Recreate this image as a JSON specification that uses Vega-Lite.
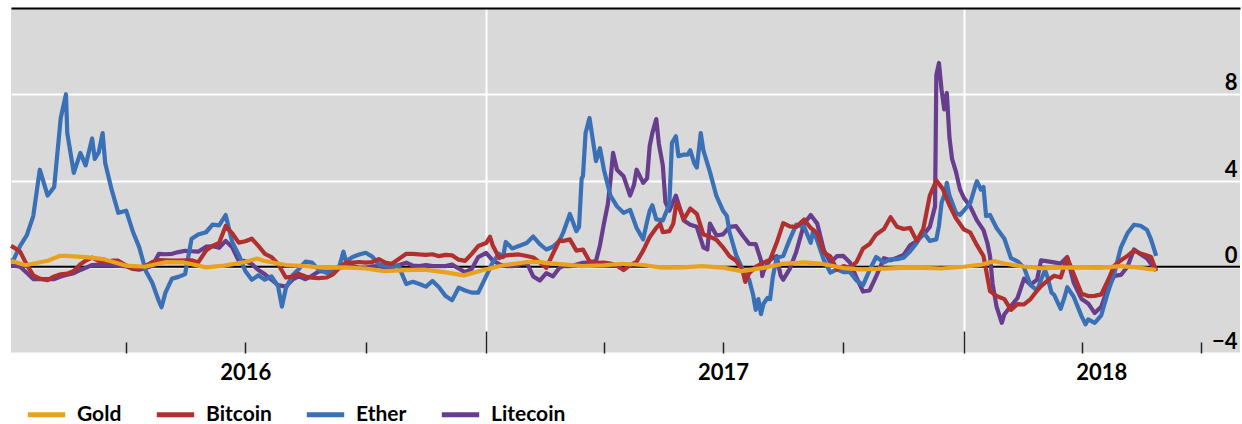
{
  "$schema": "https://vega.github.io/schema/vega-lite/v6.json",
  "width": 1229,
  "height": 345,
  "padding": {"left": 8, "top": 8, "right": 5, "bottom": 0},
  "background": "white",
  "config": {
    "view": {"fill": "#d9d9d9", "stroke": null},
    "font": "Lato"
  },
  "data": {"values": [
    {"date":"2016-01-04","series":"Litecoin","value":0.05},{"date":"2016-01-06","series":"Litecoin","value":0.05},{"date":"2016-01-11","series":"Litecoin","value":0.0},{"date":"2016-01-16","series":"Litecoin","value":-0.28},{"date":"2016-01-21","series":"Litecoin","value":-0.57},{"date":"2016-01-26","series":"Litecoin","value":-0.57},
    {"date":"2016-02-01","series":"Litecoin","value":-0.57},{"date":"2016-02-06","series":"Litecoin","value":-0.57},{"date":"2016-02-11","series":"Litecoin","value":-0.45},{"date":"2016-02-16","series":"Litecoin","value":-0.37},{"date":"2016-02-21","series":"Litecoin","value":-0.3},{"date":"2016-02-26","series":"Litecoin","value":-0.15},
    {"date":"2016-03-01","series":"Litecoin","value":-0.05},{"date":"2016-03-06","series":"Litecoin","value":0.08},{"date":"2016-03-11","series":"Litecoin","value":0.1},{"date":"2016-03-16","series":"Litecoin","value":0.07},{"date":"2016-03-21","series":"Litecoin","value":0.1},{"date":"2016-03-26","series":"Litecoin","value":0.05},
    {"date":"2016-04-01","series":"Litecoin","value":0.02},{"date":"2016-04-06","series":"Litecoin","value":-0.1},{"date":"2016-04-11","series":"Litecoin","value":-0.14},{"date":"2016-04-16","series":"Litecoin","value":-0.06},{"date":"2016-04-21","series":"Litecoin","value":0.05},{"date":"2016-04-26","series":"Litecoin","value":0.6},
    {"date":"2016-05-01","series":"Litecoin","value":0.58},{"date":"2016-05-06","series":"Litecoin","value":0.6},{"date":"2016-05-11","series":"Litecoin","value":0.68},{"date":"2016-05-16","series":"Litecoin","value":0.74},{"date":"2016-05-21","series":"Litecoin","value":0.72},{"date":"2016-05-26","series":"Litecoin","value":0.7},
    {"date":"2016-06-01","series":"Litecoin","value":0.93},{"date":"2016-06-06","series":"Litecoin","value":0.95},{"date":"2016-06-11","series":"Litecoin","value":0.88},{"date":"2016-06-16","series":"Litecoin","value":1.2},{"date":"2016-06-21","series":"Litecoin","value":0.9},{"date":"2016-06-26","series":"Litecoin","value":0.28},
    {"date":"2016-07-01","series":"Litecoin","value":0.26},{"date":"2016-07-06","series":"Litecoin","value":0.12},{"date":"2016-07-11","series":"Litecoin","value":-0.15},{"date":"2016-07-16","series":"Litecoin","value":-0.35},{"date":"2016-07-21","series":"Litecoin","value":-0.6},{"date":"2016-07-26","series":"Litecoin","value":-0.85},
    {"date":"2016-08-01","series":"Litecoin","value":-0.92},{"date":"2016-08-06","series":"Litecoin","value":-0.6},{"date":"2016-08-11","series":"Litecoin","value":-0.44},{"date":"2016-08-16","series":"Litecoin","value":-0.58},{"date":"2016-08-21","series":"Litecoin","value":-0.42},{"date":"2016-08-26","series":"Litecoin","value":-0.22},
    {"date":"2016-09-01","series":"Litecoin","value":-0.2},{"date":"2016-09-06","series":"Litecoin","value":-0.12},{"date":"2016-09-11","series":"Litecoin","value":-0.05},{"date":"2016-09-16","series":"Litecoin","value":0.03},{"date":"2016-09-21","series":"Litecoin","value":0.03},{"date":"2016-09-26","series":"Litecoin","value":-0.05},
    {"date":"2016-10-01","series":"Litecoin","value":-0.05},{"date":"2016-10-06","series":"Litecoin","value":0.02},{"date":"2016-10-11","series":"Litecoin","value":0.03},{"date":"2016-10-16","series":"Litecoin","value":-0.04},{"date":"2016-10-21","series":"Litecoin","value":-0.05},{"date":"2016-10-26","series":"Litecoin","value":0.07},
    {"date":"2016-11-01","series":"Litecoin","value":0.19},{"date":"2016-11-06","series":"Litecoin","value":0.05},{"date":"2016-11-11","series":"Litecoin","value":0.03},{"date":"2016-11-16","series":"Litecoin","value":0.08},{"date":"2016-11-21","series":"Litecoin","value":0.03},{"date":"2016-11-26","series":"Litecoin","value":0.03},
    {"date":"2016-12-01","series":"Litecoin","value":0.03},{"date":"2016-12-06","series":"Litecoin","value":0.1},{"date":"2016-12-11","series":"Litecoin","value":-0.08},{"date":"2016-12-16","series":"Litecoin","value":-0.25},{"date":"2016-12-21","series":"Litecoin","value":-0.1},{"date":"2016-12-26","series":"Litecoin","value":0.45},
    {"date":"2017-01-01","series":"Litecoin","value":0.64},{"date":"2017-01-06","series":"Litecoin","value":0.3},{"date":"2017-01-11","series":"Litecoin","value":0.12},{"date":"2017-01-16","series":"Litecoin","value":0.03},{"date":"2017-01-21","series":"Litecoin","value":0.03},{"date":"2017-01-26","series":"Litecoin","value":0.1},
    {"date":"2017-02-01","series":"Litecoin","value":0.19},{"date":"2017-02-06","series":"Litecoin","value":-0.45},{"date":"2017-02-11","series":"Litecoin","value":-0.64},{"date":"2017-02-16","series":"Litecoin","value":-0.3},{"date":"2017-02-21","series":"Litecoin","value":-0.45},{"date":"2017-02-26","series":"Litecoin","value":-0.05},
    {"date":"2017-03-01","series":"Litecoin","value":0.03},{"date":"2017-03-06","series":"Litecoin","value":0.03},{"date":"2017-03-11","series":"Litecoin","value":0.1},{"date":"2017-03-16","series":"Litecoin","value":0.18},{"date":"2017-03-21","series":"Litecoin","value":0.19},{"date":"2017-03-26","series":"Litecoin","value":0.28},{"date":"2017-03-29","series":"Litecoin","value":1.0},
    {"date":"2017-04-01","series":"Litecoin","value":2.0},{"date":"2017-04-04","series":"Litecoin","value":2.9},{"date":"2017-04-06","series":"Litecoin","value":4.0},{"date":"2017-04-08","series":"Litecoin","value":5.28},{"date":"2017-04-11","series":"Litecoin","value":4.5},{"date":"2017-04-16","series":"Litecoin","value":4.2},{"date":"2017-04-21","series":"Litecoin","value":3.3},{"date":"2017-04-24","series":"Litecoin","value":3.8},{"date":"2017-04-26","series":"Litecoin","value":4.5},
    {"date":"2017-05-01","series":"Litecoin","value":3.89},{"date":"2017-05-04","series":"Litecoin","value":4.1},{"date":"2017-05-06","series":"Litecoin","value":5.6},{"date":"2017-05-08","series":"Litecoin","value":6.2},{"date":"2017-05-11","series":"Litecoin","value":6.85},{"date":"2017-05-13","series":"Litecoin","value":5.7},{"date":"2017-05-16","series":"Litecoin","value":4.7},{"date":"2017-05-18","series":"Litecoin","value":3.0},{"date":"2017-05-21","series":"Litecoin","value":2.6},{"date":"2017-05-26","series":"Litecoin","value":3.3},
    {"date":"2017-06-01","series":"Litecoin","value":2.15},{"date":"2017-06-06","series":"Litecoin","value":1.95},{"date":"2017-06-11","series":"Litecoin","value":1.85},{"date":"2017-06-16","series":"Litecoin","value":0.9},{"date":"2017-06-19","series":"Litecoin","value":0.8},{"date":"2017-06-21","series":"Litecoin","value":2.0},{"date":"2017-06-26","series":"Litecoin","value":1.45},
    {"date":"2017-07-01","series":"Litecoin","value":1.5},{"date":"2017-07-06","series":"Litecoin","value":1.85},{"date":"2017-07-11","series":"Litecoin","value":1.88},{"date":"2017-07-16","series":"Litecoin","value":1.45},{"date":"2017-07-21","series":"Litecoin","value":1.06},{"date":"2017-07-26","series":"Litecoin","value":1.05},{"date":"2017-07-30","series":"Litecoin","value":0.3},{"date":"2017-07-31","series":"Litecoin","value":-0.43},
    {"date":"2017-08-01","series":"Litecoin","value":-0.2},{"date":"2017-08-06","series":"Litecoin","value":0.33},{"date":"2017-08-11","series":"Litecoin","value":0.49},{"date":"2017-08-14","series":"Litecoin","value":-0.4},{"date":"2017-08-16","series":"Litecoin","value":-0.6},{"date":"2017-08-21","series":"Litecoin","value":-0.1},{"date":"2017-08-26","series":"Litecoin","value":0.7},
    {"date":"2017-09-01","series":"Litecoin","value":2.0},{"date":"2017-09-06","series":"Litecoin","value":2.4},{"date":"2017-09-11","series":"Litecoin","value":2.0},{"date":"2017-09-16","series":"Litecoin","value":0.78},{"date":"2017-09-21","series":"Litecoin","value":0.19},{"date":"2017-09-26","series":"Litecoin","value":0.49},
    {"date":"2017-10-01","series":"Litecoin","value":0.5},{"date":"2017-10-06","series":"Litecoin","value":0.2},{"date":"2017-10-11","series":"Litecoin","value":-0.5},{"date":"2017-10-16","series":"Litecoin","value":-1.15},{"date":"2017-10-21","series":"Litecoin","value":-1.1},{"date":"2017-10-26","series":"Litecoin","value":-0.45},
    {"date":"2017-11-01","series":"Litecoin","value":0.4},{"date":"2017-11-06","series":"Litecoin","value":0.3},{"date":"2017-11-11","series":"Litecoin","value":0.42},{"date":"2017-11-16","series":"Litecoin","value":0.55},{"date":"2017-11-21","series":"Litecoin","value":1.0},{"date":"2017-11-26","series":"Litecoin","value":1.19},
    {"date":"2017-12-01","series":"Litecoin","value":1.48},{"date":"2017-12-06","series":"Litecoin","value":1.85},{"date":"2017-12-10","series":"Litecoin","value":2.8},{"date":"2017-12-11","series":"Litecoin","value":8.9},{"date":"2017-12-13","series":"Litecoin","value":9.45},{"date":"2017-12-15","series":"Litecoin","value":8.2},{"date":"2017-12-17","series":"Litecoin","value":7.3},{"date":"2017-12-19","series":"Litecoin","value":8.06},{"date":"2017-12-21","series":"Litecoin","value":6.0},{"date":"2017-12-23","series":"Litecoin","value":5.0},{"date":"2017-12-26","series":"Litecoin","value":4.4},{"date":"2017-12-29","series":"Litecoin","value":3.6},
    {"date":"2018-01-01","series":"Litecoin","value":3.2},{"date":"2018-01-06","series":"Litecoin","value":2.78},{"date":"2018-01-11","series":"Litecoin","value":2.15},{"date":"2018-01-16","series":"Litecoin","value":1.7},{"date":"2018-01-19","series":"Litecoin","value":1.1},{"date":"2018-01-21","series":"Litecoin","value":0.5},{"date":"2018-01-23","series":"Litecoin","value":-0.8},{"date":"2018-01-26","series":"Litecoin","value":-1.85},{"date":"2018-01-30","series":"Litecoin","value":-2.6},
    {"date":"2018-02-01","series":"Litecoin","value":-2.2},{"date":"2018-02-06","series":"Litecoin","value":-1.82},{"date":"2018-02-11","series":"Litecoin","value":-1.45},{"date":"2018-02-16","series":"Litecoin","value":-0.55},{"date":"2018-02-21","series":"Litecoin","value":-0.83},{"date":"2018-02-26","series":"Litecoin","value":-0.6},
    {"date":"2018-03-01","series":"Litecoin","value":0.3},{"date":"2018-03-06","series":"Litecoin","value":0.25},{"date":"2018-03-11","series":"Litecoin","value":0.2},{"date":"2018-03-16","series":"Litecoin","value":0.15},{"date":"2018-03-21","series":"Litecoin","value":0.45},{"date":"2018-03-26","series":"Litecoin","value":-0.75},
    {"date":"2018-04-01","series":"Litecoin","value":-1.5},{"date":"2018-04-06","series":"Litecoin","value":-1.7},{"date":"2018-04-11","series":"Litecoin","value":-2.15},{"date":"2018-04-16","series":"Litecoin","value":-1.85},{"date":"2018-04-21","series":"Litecoin","value":-1.0},{"date":"2018-04-26","series":"Litecoin","value":-0.42},
    {"date":"2018-05-01","series":"Litecoin","value":-0.38},{"date":"2018-05-06","series":"Litecoin","value":0.0},{"date":"2018-05-11","series":"Litecoin","value":0.8},{"date":"2018-05-16","series":"Litecoin","value":0.58},{"date":"2018-05-21","series":"Litecoin","value":0.38},{"date":"2018-05-28","series":"Litecoin","value":-0.2},

    {"date":"2016-01-04","series":"Ether","value":0.28},{"date":"2016-01-06","series":"Ether","value":0.33},{"date":"2016-01-11","series":"Ether","value":0.97},{"date":"2016-01-16","series":"Ether","value":1.45},{"date":"2016-01-21","series":"Ether","value":2.35},{"date":"2016-01-26","series":"Ether","value":4.5},
    {"date":"2016-02-01","series":"Ether","value":3.3},{"date":"2016-02-06","series":"Ether","value":3.7},{"date":"2016-02-11","series":"Ether","value":6.9},{"date":"2016-02-15","series":"Ether","value":8.0},{"date":"2016-02-16","series":"Ether","value":6.2},{"date":"2016-02-21","series":"Ether","value":4.35},{"date":"2016-02-26","series":"Ether","value":5.28},
    {"date":"2016-03-01","series":"Ether","value":4.7},{"date":"2016-03-06","series":"Ether","value":5.95},{"date":"2016-03-08","series":"Ether","value":5.0},{"date":"2016-03-11","series":"Ether","value":5.3},{"date":"2016-03-14","series":"Ether","value":6.2},{"date":"2016-03-16","series":"Ether","value":4.8},{"date":"2016-03-21","series":"Ether","value":3.55},{"date":"2016-03-26","series":"Ether","value":2.5},
    {"date":"2016-04-01","series":"Ether","value":2.6},{"date":"2016-04-06","series":"Ether","value":1.65},{"date":"2016-04-11","series":"Ether","value":0.9},{"date":"2016-04-16","series":"Ether","value":-0.2},{"date":"2016-04-21","series":"Ether","value":-0.75},{"date":"2016-04-26","series":"Ether","value":-1.6},{"date":"2016-04-28","series":"Ether","value":-1.88},
    {"date":"2016-05-01","series":"Ether","value":-1.2},{"date":"2016-05-06","series":"Ether","value":-0.55},{"date":"2016-05-11","series":"Ether","value":-0.47},{"date":"2016-05-16","series":"Ether","value":-0.34},{"date":"2016-05-21","series":"Ether","value":1.3},{"date":"2016-05-26","series":"Ether","value":1.5},
    {"date":"2016-06-01","series":"Ether","value":1.6},{"date":"2016-06-06","series":"Ether","value":1.95},{"date":"2016-06-11","series":"Ether","value":1.92},{"date":"2016-06-16","series":"Ether","value":2.4},{"date":"2016-06-21","series":"Ether","value":1.15},{"date":"2016-06-26","series":"Ether","value":0.55},
    {"date":"2016-07-01","series":"Ether","value":-0.2},{"date":"2016-07-06","series":"Ether","value":-0.6},{"date":"2016-07-11","series":"Ether","value":-0.4},{"date":"2016-07-16","series":"Ether","value":-0.6},{"date":"2016-07-21","series":"Ether","value":-0.45},{"date":"2016-07-26","series":"Ether","value":-0.9},{"date":"2016-07-29","series":"Ether","value":-1.85},
    {"date":"2016-08-01","series":"Ether","value":-1.0},{"date":"2016-08-06","series":"Ether","value":-0.4},{"date":"2016-08-11","series":"Ether","value":-0.1},{"date":"2016-08-16","series":"Ether","value":0.24},{"date":"2016-08-21","series":"Ether","value":0.19},{"date":"2016-08-26","series":"Ether","value":-0.13},
    {"date":"2016-09-01","series":"Ether","value":-0.28},{"date":"2016-09-06","series":"Ether","value":-0.25},{"date":"2016-09-11","series":"Ether","value":0.05},{"date":"2016-09-14","series":"Ether","value":0.7},{"date":"2016-09-16","series":"Ether","value":0.25},{"date":"2016-09-21","series":"Ether","value":0.45},{"date":"2016-09-26","series":"Ether","value":0.57},
    {"date":"2016-10-01","series":"Ether","value":0.65},{"date":"2016-10-06","series":"Ether","value":0.47},{"date":"2016-10-11","series":"Ether","value":0.11},{"date":"2016-10-16","series":"Ether","value":0.03},{"date":"2016-10-21","series":"Ether","value":0.04},{"date":"2016-10-26","series":"Ether","value":0.05},
    {"date":"2016-11-01","series":"Ether","value":-0.8},{"date":"2016-11-06","series":"Ether","value":-0.7},{"date":"2016-11-11","series":"Ether","value":-0.8},{"date":"2016-11-16","series":"Ether","value":-0.92},{"date":"2016-11-21","series":"Ether","value":-0.66},{"date":"2016-11-26","series":"Ether","value":-0.95},
    {"date":"2016-12-01","series":"Ether","value":-1.36},{"date":"2016-12-06","series":"Ether","value":-1.55},{"date":"2016-12-11","series":"Ether","value":-0.97},{"date":"2016-12-16","series":"Ether","value":-1.1},{"date":"2016-12-21","series":"Ether","value":-1.2},{"date":"2016-12-26","series":"Ether","value":-1.2},
    {"date":"2017-01-01","series":"Ether","value":-0.45},{"date":"2017-01-06","series":"Ether","value":0.2},{"date":"2017-01-11","series":"Ether","value":0.6},{"date":"2017-01-14","series":"Ether","value":0.45},{"date":"2017-01-16","series":"Ether","value":1.15},{"date":"2017-01-21","series":"Ether","value":0.85},{"date":"2017-01-26","series":"Ether","value":0.96},
    {"date":"2017-02-01","series":"Ether","value":1.1},{"date":"2017-02-06","series":"Ether","value":1.4},{"date":"2017-02-11","series":"Ether","value":1.05},{"date":"2017-02-16","series":"Ether","value":0.8},{"date":"2017-02-21","series":"Ether","value":0.93},{"date":"2017-02-26","series":"Ether","value":1.2},
    {"date":"2017-03-01","series":"Ether","value":1.6},{"date":"2017-03-06","series":"Ether","value":2.45},{"date":"2017-03-11","series":"Ether","value":1.65},{"date":"2017-03-13","series":"Ether","value":1.85},{"date":"2017-03-15","series":"Ether","value":4.1},{"date":"2017-03-16","series":"Ether","value":4.2},{"date":"2017-03-18","series":"Ether","value":6.2},{"date":"2017-03-21","series":"Ether","value":6.9},{"date":"2017-03-26","series":"Ether","value":4.9},{"date":"2017-03-29","series":"Ether","value":5.5},
    {"date":"2017-04-01","series":"Ether","value":4.5},{"date":"2017-04-06","series":"Ether","value":3.3},{"date":"2017-04-11","series":"Ether","value":2.8},{"date":"2017-04-16","series":"Ether","value":2.5},{"date":"2017-04-21","series":"Ether","value":2.64},{"date":"2017-04-26","series":"Ether","value":1.8},
    {"date":"2017-05-01","series":"Ether","value":1.27},{"date":"2017-05-04","series":"Ether","value":2.1},{"date":"2017-05-06","series":"Ether","value":2.6},{"date":"2017-05-08","series":"Ether","value":2.85},{"date":"2017-05-11","series":"Ether","value":2.2},{"date":"2017-05-16","series":"Ether","value":2.15},{"date":"2017-05-21","series":"Ether","value":2.9},{"date":"2017-05-23","series":"Ether","value":5.75},{"date":"2017-05-26","series":"Ether","value":6.05},{"date":"2017-05-28","series":"Ether","value":5.13},
    {"date":"2017-06-01","series":"Ether","value":5.2},{"date":"2017-06-04","series":"Ether","value":5.2},{"date":"2017-06-06","series":"Ether","value":5.4},{"date":"2017-06-09","series":"Ether","value":4.8},{"date":"2017-06-11","series":"Ether","value":4.6},{"date":"2017-06-14","series":"Ether","value":6.2},{"date":"2017-06-16","series":"Ether","value":5.4},{"date":"2017-06-21","series":"Ether","value":4.4},{"date":"2017-06-26","series":"Ether","value":3.27},
    {"date":"2017-07-01","series":"Ether","value":2.6},{"date":"2017-07-04","series":"Ether","value":2.35},{"date":"2017-07-06","series":"Ether","value":1.6},{"date":"2017-07-11","series":"Ether","value":0.55},{"date":"2017-07-16","series":"Ether","value":-0.12},{"date":"2017-07-21","series":"Ether","value":-0.6},{"date":"2017-07-24","series":"Ether","value":-1.3},{"date":"2017-07-26","series":"Ether","value":-2.0},{"date":"2017-07-28","series":"Ether","value":-1.5},{"date":"2017-07-30","series":"Ether","value":-2.2},
    {"date":"2017-08-01","series":"Ether","value":-1.7},{"date":"2017-08-04","series":"Ether","value":-1.45},{"date":"2017-08-06","series":"Ether","value":-1.5},{"date":"2017-08-08","series":"Ether","value":-0.5},{"date":"2017-08-11","series":"Ether","value":0.42},{"date":"2017-08-16","series":"Ether","value":0.5},{"date":"2017-08-21","series":"Ether","value":1.27},{"date":"2017-08-26","series":"Ether","value":1.95},
    {"date":"2017-09-01","series":"Ether","value":1.85},{"date":"2017-09-06","series":"Ether","value":1.11},{"date":"2017-09-08","series":"Ether","value":1.7},{"date":"2017-09-11","series":"Ether","value":1.2},{"date":"2017-09-16","series":"Ether","value":0.32},{"date":"2017-09-21","series":"Ether","value":-0.27},{"date":"2017-09-26","series":"Ether","value":-0.12},
    {"date":"2017-10-01","series":"Ether","value":-0.25},{"date":"2017-10-06","series":"Ether","value":-0.25},{"date":"2017-10-11","series":"Ether","value":-0.64},{"date":"2017-10-16","series":"Ether","value":-0.85},{"date":"2017-10-21","series":"Ether","value":-0.15},{"date":"2017-10-26","series":"Ether","value":0.45},
    {"date":"2017-11-01","series":"Ether","value":0.2},{"date":"2017-11-06","series":"Ether","value":0.34},{"date":"2017-11-11","series":"Ether","value":0.35},{"date":"2017-11-16","series":"Ether","value":0.42},{"date":"2017-11-21","series":"Ether","value":0.72},{"date":"2017-11-26","series":"Ether","value":1.1},
    {"date":"2017-12-01","series":"Ether","value":1.6},{"date":"2017-12-06","series":"Ether","value":1.2},{"date":"2017-12-11","series":"Ether","value":1.27},{"date":"2017-12-13","series":"Ether","value":1.9},{"date":"2017-12-15","series":"Ether","value":2.97},{"date":"2017-12-18","series":"Ether","value":3.5},{"date":"2017-12-19","series":"Ether","value":3.89},{"date":"2017-12-21","series":"Ether","value":3.3},{"date":"2017-12-26","series":"Ether","value":2.5},{"date":"2017-12-29","series":"Ether","value":2.4},
    {"date":"2018-01-01","series":"Ether","value":2.6},{"date":"2018-01-06","series":"Ether","value":2.97},{"date":"2018-01-10","series":"Ether","value":3.8},{"date":"2018-01-11","series":"Ether","value":3.97},{"date":"2018-01-14","series":"Ether","value":3.58},{"date":"2018-01-16","series":"Ether","value":3.7},{"date":"2018-01-18","series":"Ether","value":2.35},{"date":"2018-01-21","series":"Ether","value":2.4},{"date":"2018-01-26","series":"Ether","value":1.8},
    {"date":"2018-02-01","series":"Ether","value":1.3},{"date":"2018-02-06","series":"Ether","value":0.4},{"date":"2018-02-11","series":"Ether","value":0.25},{"date":"2018-02-16","series":"Ether","value":-0.05},{"date":"2018-02-21","series":"Ether","value":-0.85},{"date":"2018-02-26","series":"Ether","value":-1.1},
    {"date":"2018-03-01","series":"Ether","value":-0.6},{"date":"2018-03-04","series":"Ether","value":-0.15},{"date":"2018-03-06","series":"Ether","value":-0.5},{"date":"2018-03-09","series":"Ether","value":-1.2},{"date":"2018-03-11","series":"Ether","value":-1.3},{"date":"2018-03-16","series":"Ether","value":-1.95},{"date":"2018-03-19","series":"Ether","value":-1.4},{"date":"2018-03-21","series":"Ether","value":-0.95},{"date":"2018-03-26","series":"Ether","value":-1.4},
    {"date":"2018-04-01","series":"Ether","value":-2.3},{"date":"2018-04-04","series":"Ether","value":-2.67},{"date":"2018-04-06","series":"Ether","value":-2.44},{"date":"2018-04-11","series":"Ether","value":-2.6},{"date":"2018-04-16","series":"Ether","value":-2.25},{"date":"2018-04-21","series":"Ether","value":-1.2},{"date":"2018-04-26","series":"Ether","value":-0.3},
    {"date":"2018-05-01","series":"Ether","value":0.9},{"date":"2018-05-06","series":"Ether","value":1.55},{"date":"2018-05-11","series":"Ether","value":1.95},{"date":"2018-05-16","series":"Ether","value":1.9},{"date":"2018-05-21","series":"Ether","value":1.7},{"date":"2018-05-24","series":"Ether","value":1.27},{"date":"2018-05-28","series":"Ether","value":0.5},

    {"date":"2016-01-04","series":"Bitcoin","value":0.97},{"date":"2016-01-06","series":"Bitcoin","value":0.9},{"date":"2016-01-11","series":"Bitcoin","value":0.7},{"date":"2016-01-16","series":"Bitcoin","value":0.1},{"date":"2016-01-21","series":"Bitcoin","value":-0.4},{"date":"2016-01-26","series":"Bitcoin","value":-0.55},
    {"date":"2016-02-01","series":"Bitcoin","value":-0.62},{"date":"2016-02-06","series":"Bitcoin","value":-0.45},{"date":"2016-02-11","series":"Bitcoin","value":-0.35},{"date":"2016-02-16","series":"Bitcoin","value":-0.32},{"date":"2016-02-21","series":"Bitcoin","value":-0.2},{"date":"2016-02-26","series":"Bitcoin","value":0.12},
    {"date":"2016-03-01","series":"Bitcoin","value":0.28},{"date":"2016-03-06","series":"Bitcoin","value":0.42},{"date":"2016-03-11","series":"Bitcoin","value":0.27},{"date":"2016-03-16","series":"Bitcoin","value":0.22},{"date":"2016-03-21","series":"Bitcoin","value":0.28},{"date":"2016-03-26","series":"Bitcoin","value":0.28},
    {"date":"2016-04-01","series":"Bitcoin","value":0.06},{"date":"2016-04-06","series":"Bitcoin","value":-0.1},{"date":"2016-04-11","series":"Bitcoin","value":-0.06},{"date":"2016-04-16","series":"Bitcoin","value":0.04},{"date":"2016-04-21","series":"Bitcoin","value":0.22},{"date":"2016-04-26","series":"Bitcoin","value":0.31},
    {"date":"2016-05-01","series":"Bitcoin","value":0.3},{"date":"2016-05-06","series":"Bitcoin","value":0.28},{"date":"2016-05-11","series":"Bitcoin","value":0.28},{"date":"2016-05-16","series":"Bitcoin","value":0.3},{"date":"2016-05-21","series":"Bitcoin","value":0.3},{"date":"2016-05-26","series":"Bitcoin","value":0.2},
    {"date":"2016-06-01","series":"Bitcoin","value":0.75},{"date":"2016-06-06","series":"Bitcoin","value":0.97},{"date":"2016-06-11","series":"Bitcoin","value":1.1},{"date":"2016-06-16","series":"Bitcoin","value":1.89},{"date":"2016-06-21","series":"Bitcoin","value":1.55},{"date":"2016-06-26","series":"Bitcoin","value":1.12},
    {"date":"2016-07-01","series":"Bitcoin","value":1.18},{"date":"2016-07-06","series":"Bitcoin","value":1.3},{"date":"2016-07-11","series":"Bitcoin","value":0.97},{"date":"2016-07-16","series":"Bitcoin","value":0.6},{"date":"2016-07-21","series":"Bitcoin","value":0.45},{"date":"2016-07-26","series":"Bitcoin","value":0.13},
    {"date":"2016-08-01","series":"Bitcoin","value":-0.5},{"date":"2016-08-06","series":"Bitcoin","value":-0.45},{"date":"2016-08-11","series":"Bitcoin","value":-0.34},{"date":"2016-08-16","series":"Bitcoin","value":-0.45},{"date":"2016-08-21","series":"Bitcoin","value":-0.51},{"date":"2016-08-26","series":"Bitcoin","value":-0.53},
    {"date":"2016-09-01","series":"Bitcoin","value":-0.5},{"date":"2016-09-06","series":"Bitcoin","value":-0.35},{"date":"2016-09-11","series":"Bitcoin","value":-0.05},{"date":"2016-09-16","series":"Bitcoin","value":0.2},{"date":"2016-09-21","series":"Bitcoin","value":0.19},{"date":"2016-09-26","series":"Bitcoin","value":0.22},
    {"date":"2016-10-01","series":"Bitcoin","value":0.19},{"date":"2016-10-06","series":"Bitcoin","value":0.22},{"date":"2016-10-11","series":"Bitcoin","value":0.35},{"date":"2016-10-16","series":"Bitcoin","value":0.19},{"date":"2016-10-21","series":"Bitcoin","value":0.14},{"date":"2016-10-26","series":"Bitcoin","value":0.35},
    {"date":"2016-11-01","series":"Bitcoin","value":0.6},{"date":"2016-11-06","series":"Bitcoin","value":0.6},{"date":"2016-11-11","series":"Bitcoin","value":0.57},{"date":"2016-11-16","series":"Bitcoin","value":0.55},{"date":"2016-11-21","series":"Bitcoin","value":0.58},{"date":"2016-11-26","series":"Bitcoin","value":0.49},
    {"date":"2016-12-01","series":"Bitcoin","value":0.55},{"date":"2016-12-06","series":"Bitcoin","value":0.53},{"date":"2016-12-11","series":"Bitcoin","value":0.33},{"date":"2016-12-16","series":"Bitcoin","value":0.27},{"date":"2016-12-21","series":"Bitcoin","value":0.6},{"date":"2016-12-26","series":"Bitcoin","value":0.96},
    {"date":"2017-01-01","series":"Bitcoin","value":1.1},{"date":"2017-01-04","series":"Bitcoin","value":1.39},{"date":"2017-01-06","series":"Bitcoin","value":1.0},{"date":"2017-01-11","series":"Bitcoin","value":0.4},{"date":"2017-01-16","series":"Bitcoin","value":0.53},{"date":"2017-01-21","series":"Bitcoin","value":0.55},{"date":"2017-01-26","series":"Bitcoin","value":0.57},
    {"date":"2017-02-01","series":"Bitcoin","value":0.5},{"date":"2017-02-06","series":"Bitcoin","value":0.43},{"date":"2017-02-11","series":"Bitcoin","value":0.2},{"date":"2017-02-16","series":"Bitcoin","value":-0.05},{"date":"2017-02-21","series":"Bitcoin","value":0.6},{"date":"2017-02-26","series":"Bitcoin","value":1.22},
    {"date":"2017-03-01","series":"Bitcoin","value":1.19},{"date":"2017-03-06","series":"Bitcoin","value":1.27},{"date":"2017-03-11","series":"Bitcoin","value":0.75},{"date":"2017-03-16","series":"Bitcoin","value":0.8},{"date":"2017-03-21","series":"Bitcoin","value":0.25},{"date":"2017-03-26","series":"Bitcoin","value":0.18},
    {"date":"2017-04-01","series":"Bitcoin","value":0.19},{"date":"2017-04-06","series":"Bitcoin","value":0.15},{"date":"2017-04-11","series":"Bitcoin","value":0.05},{"date":"2017-04-16","series":"Bitcoin","value":-0.15},{"date":"2017-04-21","series":"Bitcoin","value":0.08},{"date":"2017-04-26","series":"Bitcoin","value":0.23},
    {"date":"2017-05-01","series":"Bitcoin","value":0.75},{"date":"2017-05-06","series":"Bitcoin","value":1.38},{"date":"2017-05-11","series":"Bitcoin","value":1.8},{"date":"2017-05-14","series":"Bitcoin","value":2.0},{"date":"2017-05-16","series":"Bitcoin","value":1.6},{"date":"2017-05-21","series":"Bitcoin","value":1.65},{"date":"2017-05-24","series":"Bitcoin","value":2.0},{"date":"2017-05-26","series":"Bitcoin","value":2.8},{"date":"2017-05-27","series":"Bitcoin","value":2.97},
    {"date":"2017-06-01","series":"Bitcoin","value":2.2},{"date":"2017-06-06","series":"Bitcoin","value":2.7},{"date":"2017-06-11","series":"Bitcoin","value":2.45},{"date":"2017-06-16","series":"Bitcoin","value":1.5},{"date":"2017-06-21","series":"Bitcoin","value":1.4},{"date":"2017-06-26","series":"Bitcoin","value":1.25},
    {"date":"2017-07-01","series":"Bitcoin","value":0.9},{"date":"2017-07-06","series":"Bitcoin","value":0.49},{"date":"2017-07-11","series":"Bitcoin","value":0.28},{"date":"2017-07-16","series":"Bitcoin","value":-0.2},{"date":"2017-07-18","series":"Bitcoin","value":-0.7},{"date":"2017-07-21","series":"Bitcoin","value":-0.3},{"date":"2017-07-26","series":"Bitcoin","value":0.0},
    {"date":"2017-08-01","series":"Bitcoin","value":0.19},{"date":"2017-08-06","series":"Bitcoin","value":0.33},{"date":"2017-08-11","series":"Bitcoin","value":1.11},{"date":"2017-08-16","series":"Bitcoin","value":2.02},{"date":"2017-08-21","series":"Bitcoin","value":1.87},{"date":"2017-08-26","series":"Bitcoin","value":1.85},
    {"date":"2017-09-01","series":"Bitcoin","value":2.19},{"date":"2017-09-06","series":"Bitcoin","value":1.8},{"date":"2017-09-11","series":"Bitcoin","value":1.55},{"date":"2017-09-16","series":"Bitcoin","value":0.65},{"date":"2017-09-21","series":"Bitcoin","value":0.48},{"date":"2017-09-26","series":"Bitcoin","value":-0.12},
    {"date":"2017-10-01","series":"Bitcoin","value":0.03},{"date":"2017-10-06","series":"Bitcoin","value":-0.05},{"date":"2017-10-11","series":"Bitcoin","value":0.22},{"date":"2017-10-16","series":"Bitcoin","value":0.85},{"date":"2017-10-21","series":"Bitcoin","value":1.05},{"date":"2017-10-26","series":"Bitcoin","value":1.5},
    {"date":"2017-11-01","series":"Bitcoin","value":1.75},{"date":"2017-11-06","series":"Bitcoin","value":2.3},{"date":"2017-11-11","series":"Bitcoin","value":1.85},{"date":"2017-11-16","series":"Bitcoin","value":1.75},{"date":"2017-11-21","series":"Bitcoin","value":1.8},{"date":"2017-11-26","series":"Bitcoin","value":1.2},
    {"date":"2017-12-01","series":"Bitcoin","value":1.75},{"date":"2017-12-06","series":"Bitcoin","value":3.3},{"date":"2017-12-11","series":"Bitcoin","value":4.0},{"date":"2017-12-16","series":"Bitcoin","value":3.6},{"date":"2017-12-21","series":"Bitcoin","value":2.85},{"date":"2017-12-26","series":"Bitcoin","value":2.25},
    {"date":"2018-01-01","series":"Bitcoin","value":1.73},{"date":"2018-01-06","series":"Bitcoin","value":1.58},{"date":"2018-01-11","series":"Bitcoin","value":1.0},{"date":"2018-01-16","series":"Bitcoin","value":0.5},{"date":"2018-01-21","series":"Bitcoin","value":-1.13},{"date":"2018-01-26","series":"Bitcoin","value":-1.36},
    {"date":"2018-02-01","series":"Bitcoin","value":-1.5},{"date":"2018-02-06","series":"Bitcoin","value":-2.0},{"date":"2018-02-11","series":"Bitcoin","value":-1.73},{"date":"2018-02-16","series":"Bitcoin","value":-1.75},{"date":"2018-02-21","series":"Bitcoin","value":-1.5},{"date":"2018-02-26","series":"Bitcoin","value":-1.1},
    {"date":"2018-03-01","series":"Bitcoin","value":-0.9},{"date":"2018-03-06","series":"Bitcoin","value":-0.64},{"date":"2018-03-11","series":"Bitcoin","value":-0.42},{"date":"2018-03-16","series":"Bitcoin","value":-0.5},{"date":"2018-03-21","series":"Bitcoin","value":0.42},{"date":"2018-03-26","series":"Bitcoin","value":-0.35},
    {"date":"2018-04-01","series":"Bitcoin","value":-1.25},{"date":"2018-04-06","series":"Bitcoin","value":-1.36},{"date":"2018-04-11","series":"Bitcoin","value":-1.35},{"date":"2018-04-16","series":"Bitcoin","value":-1.28},{"date":"2018-04-21","series":"Bitcoin","value":-0.65},{"date":"2018-04-26","series":"Bitcoin","value":0.05},
    {"date":"2018-05-01","series":"Bitcoin","value":0.3},{"date":"2018-05-06","series":"Bitcoin","value":0.5},{"date":"2018-05-11","series":"Bitcoin","value":0.75},{"date":"2018-05-16","series":"Bitcoin","value":0.62},{"date":"2018-05-21","series":"Bitcoin","value":0.52},{"date":"2018-05-24","series":"Bitcoin","value":0.45},{"date":"2018-05-28","series":"Bitcoin","value":-0.2},

    {"date":"2016-01-04","series":"Gold","value":0.28},{"date":"2016-01-15","series":"Gold","value":0.07},{"date":"2016-02-01","series":"Gold","value":0.28},{"date":"2016-02-10","series":"Gold","value":0.5},{"date":"2016-02-15","series":"Gold","value":0.5},
    {"date":"2016-03-01","series":"Gold","value":0.45},{"date":"2016-03-15","series":"Gold","value":0.35},{"date":"2016-04-01","series":"Gold","value":0.05},{"date":"2016-04-15","series":"Gold","value":0.0},{"date":"2016-05-01","series":"Gold","value":0.21},{"date":"2016-05-15","series":"Gold","value":0.2},
    {"date":"2016-06-01","series":"Gold","value":-0.03},{"date":"2016-06-15","series":"Gold","value":0.05},{"date":"2016-07-01","series":"Gold","value":0.22},{"date":"2016-07-10","series":"Gold","value":0.38},{"date":"2016-07-15","series":"Gold","value":0.28},{"date":"2016-08-01","series":"Gold","value":0.08},{"date":"2016-08-15","series":"Gold","value":0.03},
    {"date":"2016-09-01","series":"Gold","value":-0.05},{"date":"2016-09-15","series":"Gold","value":-0.03},{"date":"2016-10-01","series":"Gold","value":-0.08},{"date":"2016-10-15","series":"Gold","value":-0.2},{"date":"2016-11-01","series":"Gold","value":-0.16},{"date":"2016-11-15","series":"Gold","value":-0.13},
    {"date":"2016-12-01","series":"Gold","value":-0.26},{"date":"2016-12-15","series":"Gold","value":-0.4},{"date":"2017-01-01","series":"Gold","value":-0.12},{"date":"2017-01-15","series":"Gold","value":0.08},{"date":"2017-02-01","series":"Gold","value":0.21},{"date":"2017-02-10","series":"Gold","value":0.23},{"date":"2017-02-15","series":"Gold","value":0.18},
    {"date":"2017-03-01","series":"Gold","value":0.11},{"date":"2017-03-15","series":"Gold","value":0.03},{"date":"2017-04-01","series":"Gold","value":0.06},{"date":"2017-04-15","series":"Gold","value":0.14},{"date":"2017-05-01","series":"Gold","value":0.08},{"date":"2017-05-15","series":"Gold","value":-0.04},
    {"date":"2017-06-01","series":"Gold","value":-0.03},{"date":"2017-06-15","series":"Gold","value":0.03},{"date":"2017-07-01","series":"Gold","value":-0.04},{"date":"2017-07-15","series":"Gold","value":-0.2},{"date":"2017-08-01","series":"Gold","value":-0.05},{"date":"2017-08-15","series":"Gold","value":0.13},
    {"date":"2017-09-01","series":"Gold","value":0.2},{"date":"2017-09-15","series":"Gold","value":0.13},{"date":"2017-10-01","series":"Gold","value":-0.06},{"date":"2017-10-15","series":"Gold","value":-0.12},{"date":"2017-11-01","series":"Gold","value":-0.09},{"date":"2017-11-15","series":"Gold","value":-0.05},
    {"date":"2017-12-01","series":"Gold","value":-0.05},{"date":"2017-12-15","series":"Gold","value":-0.08},{"date":"2018-01-01","series":"Gold","value":0.0},{"date":"2018-01-15","series":"Gold","value":0.1},{"date":"2018-01-24","series":"Gold","value":0.26},{"date":"2018-02-01","series":"Gold","value":0.15},{"date":"2018-02-15","series":"Gold","value":0.01},
    {"date":"2018-03-01","series":"Gold","value":-0.07},{"date":"2018-03-15","series":"Gold","value":-0.04},{"date":"2018-04-01","series":"Gold","value":-0.03},{"date":"2018-04-15","series":"Gold","value":-0.05},{"date":"2018-05-01","series":"Gold","value":0.03},{"date":"2018-05-15","series":"Gold","value":-0.04},{"date":"2018-05-28","series":"Gold","value":-0.15}
  ]},
  "resolve": {"axis": {"x": "independent", "y": "independent"}},
  "layer": [
    {
      "data": {"values": [{"level": 0}]},
      "mark": {"type": "rule", "color": "black", "strokeWidth": 2},
      "encoding": {
        "y": {"field": "level", "type": "quantitative", "scale": {"domain": [-4, 12], "nice": false, "zero": false}, "axis": null}
      }
    },
    {
      "mark": {"type": "line", "strokeWidth": 4.2, "strokeJoin": "round"},
      "encoding": {
        "x": {"field": "date", "type": "temporal",
              "scale": {"domain": [{"year": 2016, "month": 1, "date": 4}, {"year": 2018, "month": 7, "date": 31}], "nice": false},
              "axis": {"orient": "bottom", "title": null, "labels": false, "domain": false, "grid": false,
                       "ticks": true, "tickSize": -11, "tickColor": "#222222", "tickWidth": 1.5,
                       "values": [{"year": 2016, "month": 4, "date": 1}, {"year": 2016, "month": 7, "date": 1}, {"year": 2016, "month": 10, "date": 1}, {"year": 2017, "month": 4, "date": 1}, {"year": 2017, "month": 7, "date": 1}, {"year": 2017, "month": 10, "date": 1}, {"year": 2018, "month": 4, "date": 1}, {"year": 2018, "month": 7, "date": 1}]}},
        "y": {"field": "value", "type": "quantitative",
              "scale": {"domain": [-4, 12], "nice": false, "zero": false},
              "axis": {"orient": "right", "title": null, "values": [-4, 0, 4, 8], "grid": true, "gridColor": "white", "gridWidth": 2,
                       "domain": false, "ticks": false, "tickSize": 0, "labelAlign": "right", "labelBaseline": "alphabetic",
                       "labelPadding": -3, "labelOffset": -4.5, "labelFontSize": 22, "labelFontWeight": "bold", "labelColor": "black",
                       "labelFlush": false, "labelOverlap": false, "labelBound": false}},
        "color": {"field": "series", "type": "nominal",
                  "scale": {"domain": ["Gold", "Bitcoin", "Ether", "Litecoin"], "range": ["#E8A21F", "#B0302F", "#3A70B5", "#683D8D"]},
                  "legend": {"orient": "none", "legendX": 14, "legendY": 385, "direction": "horizontal", "title": null,
                             "symbolType": "stroke", "symbolStrokeWidth": 5, "symbolSize": 1400,
                             "labelFontSize": 21, "labelFontWeight": "bold", "labelColor": "black", "labelOffset": 9, "columnPadding": 24}}
      }
    },
    {
      "mark": {"type": "line", "opacity": 0},
      "encoding": {
        "x": {"field": "date", "type": "temporal",
              "axis": {"orient": "bottom", "title": null, "labels": false, "domain": false, "grid": true, "gridColor": "white", "gridWidth": 2,
                       "ticks": true, "tickSize": -22, "tickColor": "#222222", "tickWidth": 1.5,
                       "values": [{"year": 2017, "month": 1, "date": 1}, {"year": 2018, "month": 1, "date": 1}]}},
        "y": {"field": "value", "type": "quantitative", "axis": null},
        "detail": {"field": "series"}
      }
    },
    {
      "mark": {"type": "line", "opacity": 0},
      "encoding": {
        "x": {"field": "date", "type": "temporal",
              "axis": {"orient": "bottom", "title": null, "domain": false, "grid": false, "ticks": false, "format": "%Y",
                       "labelPadding": 9, "labelFontSize": 22, "labelFontWeight": "bold", "labelColor": "black", "labelBaseline": "top",
                       "labelFlush": false, "labelOverlap": false,
                       "values": [{"year": 2016, "month": 7, "date": 1}, {"year": 2017, "month": 7, "date": 1}, {"year": 2018, "month": 4, "date": 16}]}},
        "y": {"field": "value", "type": "quantitative", "axis": null},
        "detail": {"field": "series"}
      }
    },
    {
      "mark": {"type": "line", "opacity": 0},
      "encoding": {
        "x": {"field": "date", "type": "temporal",
              "axis": {"orient": "top", "title": null, "labels": false, "ticks": false, "grid": false, "domain": true, "domainColor": "black", "domainWidth": 2}},
        "y": {"field": "value", "type": "quantitative", "axis": null},
        "detail": {"field": "series"}
      }
    }
  ]
}
